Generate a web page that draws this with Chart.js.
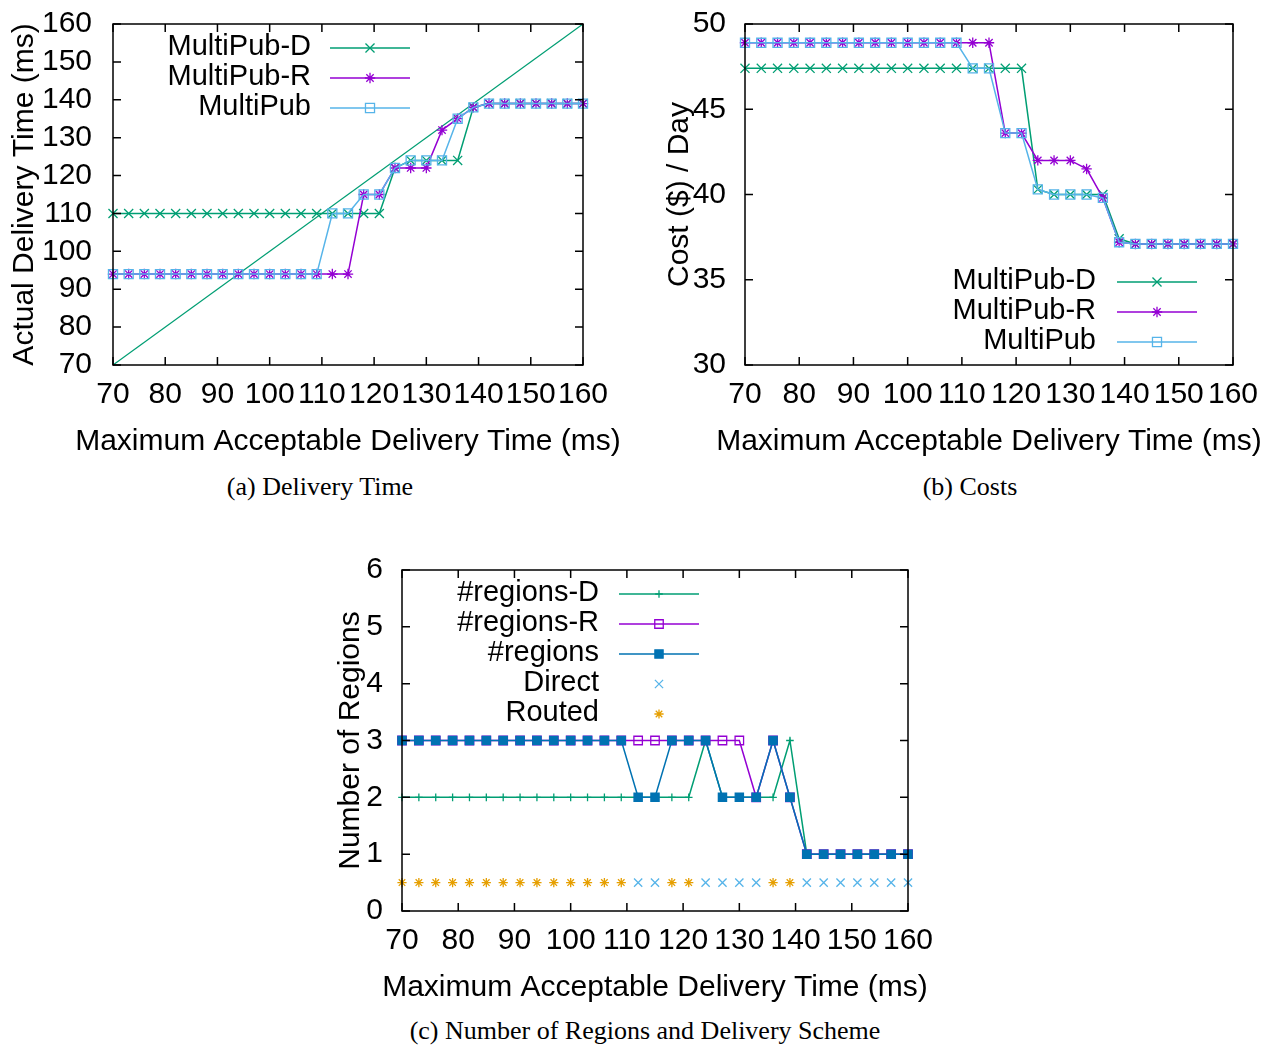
<!DOCTYPE html>
<html><head><meta charset="utf-8">
<script src="https://cdn.jsdelivr.net/npm/chart.js@4/dist/chart.umd.min.js"></script>
<style>
html,body{margin:0;padding:0;background:#fff;}
body{width:1267px;height:1045px;position:relative;overflow:hidden;}
canvas{position:absolute;}
.cap{position:absolute;font-family:"Liberation Serif","Times New Roman",serif;font-size:26px;color:#000;white-space:nowrap;transform:translate(-50%,-50%);line-height:1;}
</style></head><body>
<canvas id="ca" width="640" height="470" style="left:0px;top:0px;width:640px;height:470px"></canvas>
<canvas id="cb" width="634" height="470" style="left:633px;top:0px;width:634px;height:470px"></canvas>
<canvas id="cc" width="630" height="470" style="left:320px;top:546px;width:630px;height:470px"></canvas>
<div class="cap" style="left:320px;top:487px">(a) Delivery Time</div>
<div class="cap" style="left:970px;top:487px">(b) Costs</div>
<div class="cap" style="left:645px;top:1031px">(c) Number of Regions and Delivery Scheme</div>
<script>
// ---------- data ----------
const xValues = [70,73,76,79,82,85,88,91,94,97,100,103,106,109,112,115,118,121,124,127,130,133,136,139,142,145,148,151,154,157,160];
const xTickValues = [70,80,90,100,110,120,130,140,150,160];
const xTitle = 'Maximum Acceptable Delivery Time (ms)';

const delivTicks = [70,80,90,100,110,120,130,140,150,160];
const delivD = [110,110,110,110,110,110,110,110,110,110,110,110,110,110,110,110,110,110,122,124,124,124,124,138,139,139,139,139,139,139,139];
const delivR = [94,94,94,94,94,94,94,94,94,94,94,94,94,94,94,94,115,115,122,122,122,132,135,138,139,139,139,139,139,139,139];
const delivM = [94,94,94,94,94,94,94,94,94,94,94,94,94,94,110,110,115,115,122,124,124,124,135,138,139,139,139,139,139,139,139];
const diagX = [70,160];
const diagY = [70,160];

const costTicks = [30,35,40,45,50];
const costD = [47.4,47.4,47.4,47.4,47.4,47.4,47.4,47.4,47.4,47.4,47.4,47.4,47.4,47.4,47.4,47.4,47.4,47.4,40.3,40.0,40.0,40.0,40.0,37.4,37.1,37.1,37.1,37.1,37.1,37.1,37.1];
const costR = [48.9,48.9,48.9,48.9,48.9,48.9,48.9,48.9,48.9,48.9,48.9,48.9,48.9,48.9,48.9,48.9,43.6,43.6,42.0,42.0,42.0,41.5,39.8,37.2,37.1,37.1,37.1,37.1,37.1,37.1,37.1];
const costM = [48.9,48.9,48.9,48.9,48.9,48.9,48.9,48.9,48.9,48.9,48.9,48.9,48.9,48.9,47.4,47.4,43.6,43.6,40.3,40.0,40.0,40.0,39.8,37.2,37.1,37.1,37.1,37.1,37.1,37.1,37.1];

const regionTicks = [0,1,2,3,4,5,6];
const regD = [2,2,2,2,2,2,2,2,2,2,2,2,2,2,2,2,2,2,3,2,2,2,2,3,1,1,1,1,1,1,1];
const regR = [3,3,3,3,3,3,3,3,3,3,3,3,3,3,3,3,3,3,3,3,3,2,3,2,1,1,1,1,1,1,1];
const regM = [3,3,3,3,3,3,3,3,3,3,3,3,3,3,2,2,3,3,3,2,2,2,3,2,1,1,1,1,1,1,1];
const direct = [null,null,null,null,null,null,null,null,null,null,null,null,null,null,0.5,0.5,null,null,0.5,0.5,0.5,0.5,null,null,0.5,0.5,0.5,0.5,0.5,0.5,0.5];
const routed = [0.5,0.5,0.5,0.5,0.5,0.5,0.5,0.5,0.5,0.5,0.5,0.5,0.5,0.5,null,null,0.5,0.5,null,null,null,null,0.5,0.5,null,null,null,null,null,null,null];

// ---------- style ----------
const FAMILY = '"Liberation Sans", Arial, Helvetica, sans-serif';
const FSIZE = 30;
const KSIZE = 29;
const FONT = {family: FAMILY, size: FSIZE};
const GREEN = '#009e73', PURPLE = '#9400d3', LBLUE = '#56b4e9', BLUE = '#0072b2', ORANGE = '#e69f00';

const pts = (xs, ys) => xs.map((x, i) => ({x: x, y: ys[i]}));

function series(label, ys, color, style, r, fill, showLine, order, xs) {
  return {
    label: label, data: pts(xs || xValues, ys), borderColor: color, backgroundColor: color,
    borderWidth: 1.5, showLine: showLine, pointStyle: style, pointRadius: r, pointHoverRadius: r,
    pointBorderColor: color, pointBackgroundColor: fill, pointBorderWidth: 1.3,
    clip: false, order: order, tension: 0, spanGaps: false
  };
}

function drawMarker(ctx, style, x, y, r, color, fill) {
  ctx.save();
  ctx.strokeStyle = color; ctx.lineWidth = 1.3;
  const d = r * Math.SQRT1_2;
  ctx.beginPath();
  if (style === 'cross' || style === 'star') {
    ctx.moveTo(x - r, y); ctx.lineTo(x + r, y); ctx.moveTo(x, y - r); ctx.lineTo(x, y + r);
  }
  if (style === 'crossRot' || style === 'star') {
    ctx.moveTo(x - d, y - d); ctx.lineTo(x + d, y + d); ctx.moveTo(x - d, y + d); ctx.lineTo(x + d, y - d);
  }
  if (style === 'rect') {
    ctx.rect(x - d, y - d, 2 * d, 2 * d);
    if (fill && fill !== 'transparent') { ctx.fillStyle = fill; ctx.fill(); }
  }
  ctx.stroke();
  ctx.restore();
}

const framePlugin = {
  id: 'gframe',
  afterDraw(chart) {
    const {ctx, chartArea: a, scales} = chart;
    const L = 8;
    ctx.save();
    ctx.strokeStyle = '#000'; ctx.lineWidth = 1.5;
    ctx.beginPath();
    scales.x.ticks.forEach(t => {
      const p = scales.x.getPixelForValue(t.value);
      ctx.moveTo(p, a.bottom); ctx.lineTo(p, a.bottom - L);
      ctx.moveTo(p, a.top); ctx.lineTo(p, a.top + L);
    });
    scales.y.ticks.forEach(t => {
      const p = scales.y.getPixelForValue(t.value);
      ctx.moveTo(a.left, p); ctx.lineTo(a.left + L, p);
      ctx.moveTo(a.right, p); ctx.lineTo(a.right - L, p);
    });
    ctx.stroke();
    ctx.strokeRect(a.left, a.top, a.right - a.left, a.bottom - a.top);
    // x axis title (drawn without width compression)
    ctx.font = FSIZE + 'px ' + FAMILY;
    ctx.fillStyle = '#000'; ctx.textAlign = 'center'; ctx.textBaseline = 'middle';
    ctx.fillText(xTitle, (a.left + a.right) / 2, a.bottom + 77);
    ctx.restore();
  }
};

const keyPlugin = {
  id: 'gkey',
  afterDraw(chart, args, opts) {
    const {ctx, chartArea: a} = chart;
    const items = chart.data.datasets.filter(d => d.label);
    const base = opts.anchor === 'right' ? a.right : a.left;
    const y0 = opts.fromBottom ? a.bottom - opts.y0 : a.top + opts.y0;
    ctx.save();
    ctx.font = KSIZE + 'px ' + FAMILY;
    ctx.textAlign = 'right'; ctx.textBaseline = 'middle'; ctx.fillStyle = '#000';
    items.forEach((d, i) => {
      const y = y0 + i * opts.step;
      ctx.fillText(d.label, base + opts.textRight, y - 1);
      const x1 = base + opts.lineStart, x2 = base + opts.lineEnd;
      if (d.showLine) {
        ctx.strokeStyle = d.borderColor; ctx.lineWidth = d.borderWidth;
        ctx.beginPath(); ctx.moveTo(x1, y); ctx.lineTo(x2, y); ctx.stroke();
      }
      drawMarker(ctx, d.pointStyle, (x1 + x2) / 2, y, d.pointRadius, d.pointBorderColor, d.pointBackgroundColor);
    });
    ctx.restore();
  }
};

function makeChart(id, datasets, c) {
  return new Chart(document.getElementById(id), {
    type: 'line',
    data: {datasets: datasets},
    plugins: [framePlugin, keyPlugin],
    options: {
      responsive: false, animation: false, devicePixelRatio: 1,
      layout: {padding: {left: 0, top: 24, right: c.padRight, bottom: 0}},
      plugins: {legend: {display: false}, tooltip: {enabled: false}, gkey: c.key},
      scales: {
        x: {
          type: 'linear', min: 70, max: 160,
          afterBuildTicks: s => { s.ticks = xTickValues.map(v => ({value: v})); },
          ticks: {autoSkip: false, maxRotation: 0, minRotation: 0, padding: 12, color: '#000', font: FONT, callback: v => String(v)},
          grid: {display: false, drawTicks: false, tickLength: 0},
          border: {display: false},
          title: {display: false},
          afterFit: s => { s.height = 105; s.paddingLeft = 0; s.paddingRight = 0; }
        },
        y: {
          type: 'linear', min: c.yMin, max: c.yMax,
          afterBuildTicks: s => { s.ticks = c.yTicks.map(v => ({value: v})); },
          ticks: {autoSkip: false, padding: c.yTickPad, color: '#000', font: FONT, callback: v => String(v)},
          grid: {display: false, drawTicks: false, tickLength: 0},
          border: {display: false},
          title: {display: true, text: c.yTitle, color: '#000', font: FONT, padding: {top: c.yTitlePad, bottom: 0}},
          afterFit: s => { s.width = c.yWidth; s.paddingTop = 0; s.paddingBottom = 0; }
        }
      }
    }
  });
}

// (a) Delivery Time
makeChart('ca', [
  series('MultiPub-D', delivD, GREEN, 'crossRot', 6.4, GREEN, true, 3),
  series('MultiPub-R', delivR, PURPLE, 'star', 5.2, PURPLE, true, 2),
  series('MultiPub', delivM, LBLUE, 'rect', 6.4, 'transparent', true, 1),
  Object.assign(series('', diagY, GREEN, 'circle', 0, GREEN, true, 4, diagX), {borderWidth: 1.2})
], {yMin: 70, yMax: 160, yTicks: delivTicks, yTitle: 'Actual Delivery Time (ms)', yWidth: 113, yTickPad: 21, yTitlePad: 7, padRight: 57,
    key: {anchor: 'left', fromBottom: false, y0: 24, step: 30, textRight: 198, lineStart: 217, lineEnd: 297}});

// (b) Costs
makeChart('cb', [
  series('MultiPub-D', costD, GREEN, 'crossRot', 6.4, GREEN, true, 3),
  series('MultiPub-R', costR, PURPLE, 'star', 5.2, PURPLE, true, 2),
  series('MultiPub', costM, LBLUE, 'rect', 6.4, 'transparent', true, 1)
], {yMin: 30, yMax: 50, yTicks: costTicks, yTitle: 'Cost ($) / Day', yWidth: 112, yTickPad: 19, yTitlePad: 29, padRight: 34,
    key: {anchor: 'right', fromBottom: true, y0: 83, step: 30, textRight: -137, lineStart: -116, lineEnd: -36}});

// (c) Number of Regions
makeChart('cc', [
  series('#regions-D', regD, GREEN, 'cross', 3.8, GREEN, true, 5),
  series('#regions-R', regR, PURPLE, 'rect', 6.0, 'transparent', true, 4),
  series('#regions', regM, BLUE, 'rect', 5.8, BLUE, true, 3),
  series('Direct', direct, LBLUE, 'crossRot', 5.8, LBLUE, false, 2),
  series('Routed', routed, ORANGE, 'star', 4.6, ORANGE, false, 1)
], {yMin: 0, yMax: 6, yTicks: regionTicks, yTitle: 'Number of Regions', yWidth: 82, yTickPad: 19, yTitlePad: 13, padRight: 42,
    key: {anchor: 'left', fromBottom: false, y0: 24, step: 30, textRight: 197, lineStart: 217, lineEnd: 297}});
</script>
</body></html>
